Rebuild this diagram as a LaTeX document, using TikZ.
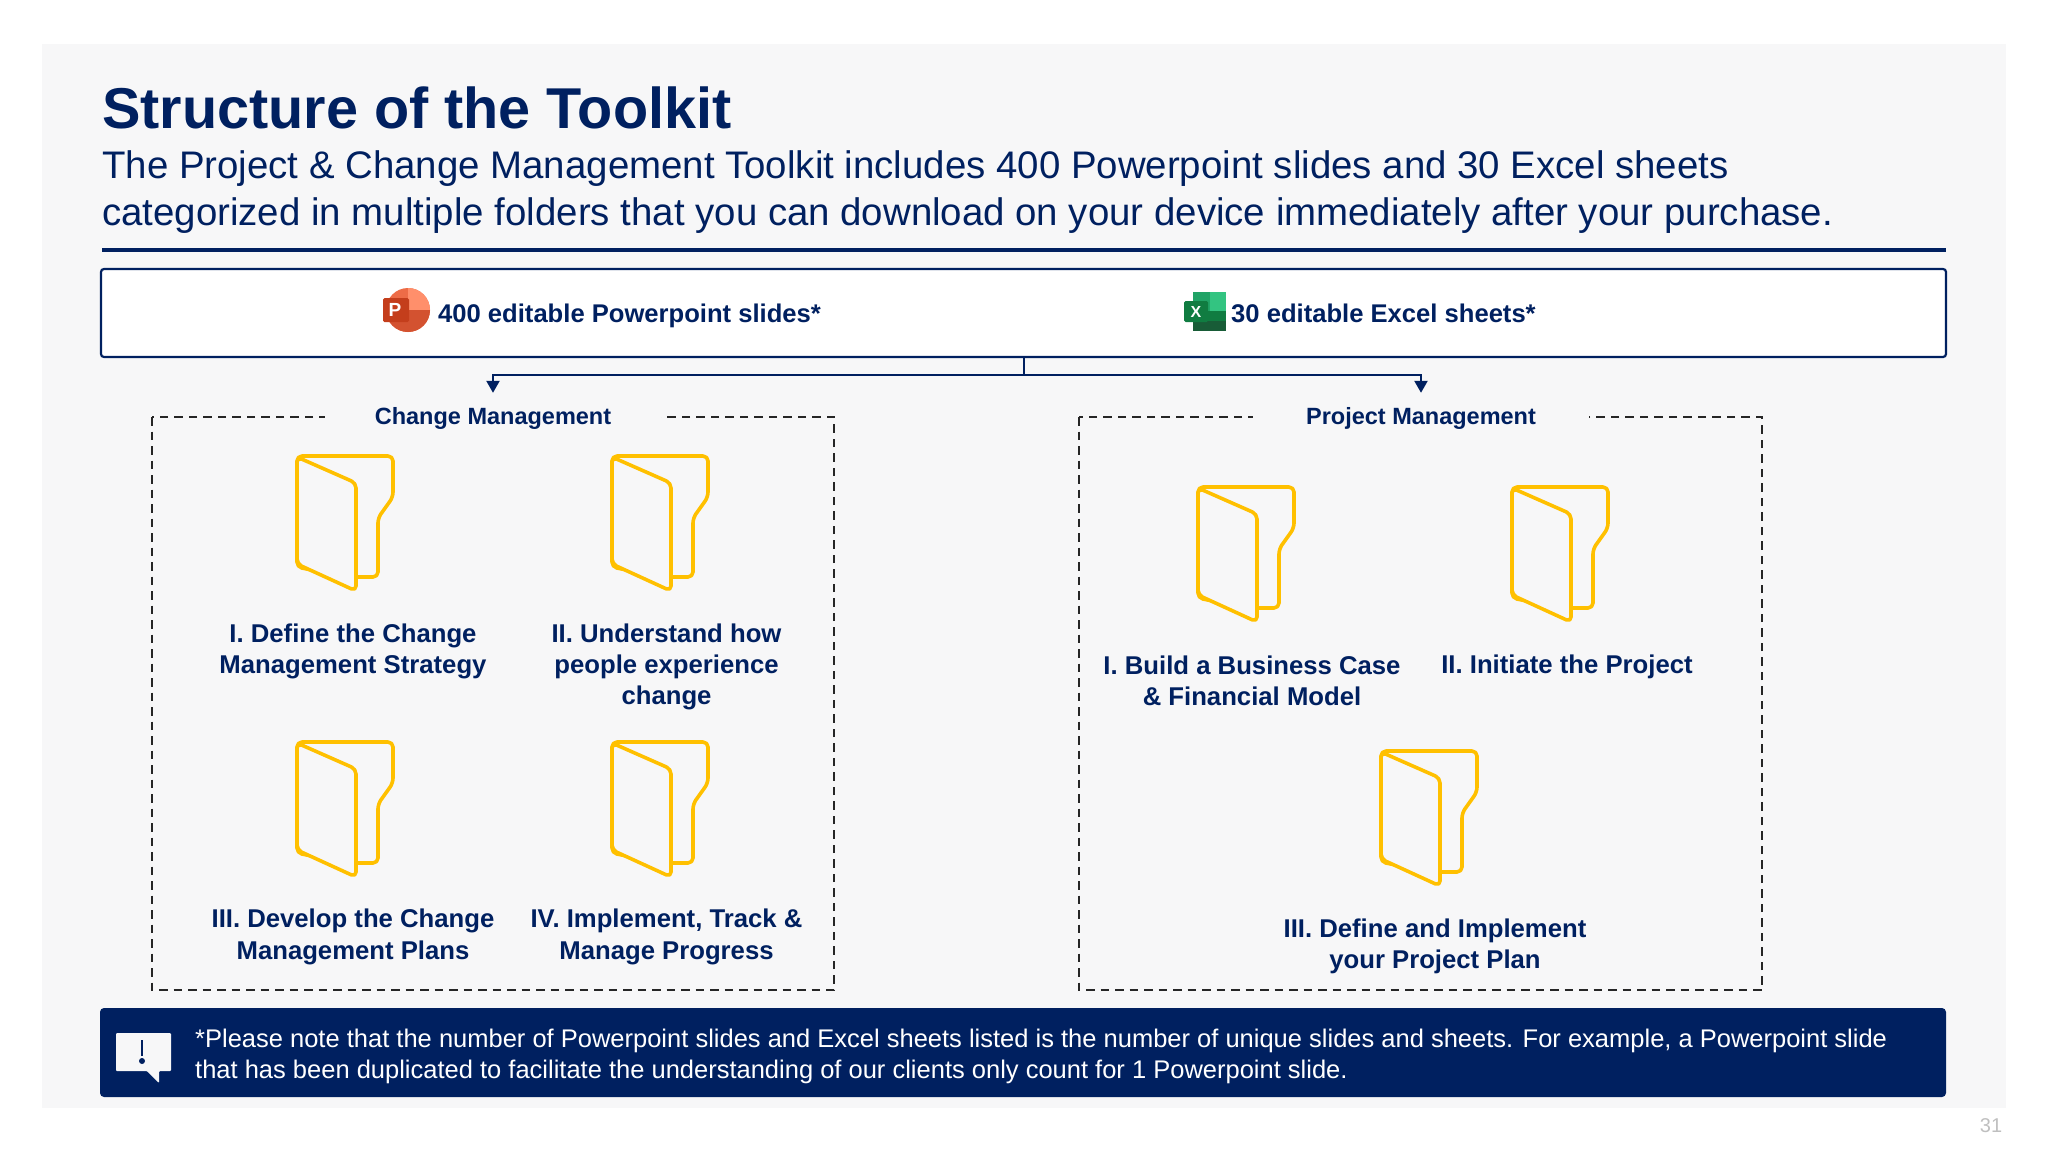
\documentclass[tikz,border=0pt]{standalone}
\usepackage{fontspec}
\setmainfont{Liberation Sans}
\usetikzlibrary{arrows.meta,positioning,calc}
\definecolor{navy}{HTML}{002060}
\definecolor{panel}{HTML}{F7F7F8}
\definecolor{folderyellow}{HTML}{FFC000}
\definecolor{pptlight}{HTML}{FF8F6B}
\definecolor{pptmid}{HTML}{ED6C47}
\definecolor{pptdark}{HTML}{D35230}
\definecolor{pptsquare}{HTML}{C43E1C}
\definecolor{xlslight}{HTML}{33C481}
\definecolor{xlsmid}{HTML}{21A366}
\definecolor{xlsdark}{HTML}{107C41}
\definecolor{xlsdeep}{HTML}{185C37}
\tikzset{
	flow/.style={draw=navy, line width=2.2pt, -{Triangle[width=13pt,length=12pt]}},
	groupbox/.style={draw=black!85, line width=1.8pt, dash pattern=on 8.5pt off 6pt},
	grouphead/.style={fill=panel, text=navy, inner sep=0pt, minimum width=336pt, minimum height=50pt, font=\fontsize{23.5}{30}\selectfont\bfseries},
	folderlabel/.style={text=navy, align=center, inner sep=0pt, font=\fontsize{25.7}{31.3}\selectfont\bfseries},
	filetext/.style={anchor=base west, inner sep=0pt, text=navy, font=\fontsize{25.6}{26}\selectfont\bfseries},
	subtext/.style={anchor=base west, inner sep=0pt, text=navy, font=\fontsize{38.4}{40}\selectfont},
	notetext/.style={anchor=base west, inner sep=0pt, text=white, font=\fontsize{25.5}{26}\selectfont},
	folder/.pic={
		\draw[folderyellow, line width=3.6pt, line join=round, rounded corners=5pt, fill=panel]
			(1,0) -- (97,0) -- (97,41) -- (82,62) -- (82,121) -- (50,121) -- (1,111) -- cycle;
		\draw[folderyellow, line width=3.6pt, line join=round, rounded corners=5pt, fill=panel]
			(1,1) -- (60,27) -- (60,135) -- (1,108) -- cycle;
	}
}
\begin{document}
\begin{tikzpicture}[x=1pt,y=-1pt]
	\useasboundingbox (0,0) rectangle (2048,1152);
	\def \BoxTop {417}; %Top of the dashed groups
	\def \BoxBottom {990}; %Bottom of the dashed groups
	\fill[panel] (42,44) rectangle (2006,1108);
	\node[text=black!25, font=\fontsize{20}{20}\selectfont] (pagenr) at (1991,1126) {31};
	%Heading
	%===========================================================
	\node[anchor=base west, inner sep=0pt, text=navy, font=\fontsize{57.6}{58}\selectfont\bfseries] (title) at (102,128) {Structure of the Toolkit};
	\node[subtext] (subone) at (102,178.5) {The Project \& Change Management Toolkit includes 400 Powerpoint slides and 30 Excel sheets};
	\node[subtext] (subtwo) at (102,225) {categorized in multiple folders that you can download on your device immediately after your purchase.};
	\draw[navy, line width=4pt] (102,250) -- (1946,250);
	%Top box with both file types
	%===========================================================
	\draw[navy, line width=2.2pt, fill=white, rounded corners=3pt] (101,269) rectangle (1946,357);
	\coordinate (topbox) at (1024,357);
	\coordinate (bus) at (1024,375);
	%Powerpoint icon
	\fill[pptmid] (408,310) circle (22);
	\fill[pptlight] (408,310) -- (408,288) arc (-90:0:22) -- cycle;
	\fill[pptdark] (430,310) arc (0:180:22) -- cycle;
	\fill[pptsquare, rounded corners=1.5pt] (383,298) rectangle (409,322);
	\node[text=white, inner sep=0pt, font=\fontsize{19}{19}\selectfont\bfseries] (pptletter) at (395,310) {P};
	\node[filetext] (ppttext) at (438,322) {400 editable Powerpoint slides*};
	%Excel icon
	\fill[xlslight] (1193,292) rectangle (1226,311);
	\fill[xlsmid] (1193,292) rectangle (1210,311);
	\fill[xlsdark] (1193,311) rectangle (1226,331);
	\fill[xlsdeep] (1193,321) rectangle (1226,331);
	\fill[xlsdark, rounded corners=1.5pt] (1184,301) rectangle (1208,322);
	\node[text=white, inner sep=0pt, font=\fontsize{16}{16}\selectfont\bfseries] (xlsletter) at (1196,312) {X};
	\node[filetext] (xlstext) at (1231,322) {30 editable Excel sheets*};
	%Dashed groups
	%===========================================================
	\draw[groupbox] (152,\BoxTop) rectangle (834,\BoxBottom);
	\draw[groupbox] (1079,\BoxTop) rectangle (1762,\BoxBottom);
	\node[grouphead] (change) at (493,418) {Change Management};
	\node[grouphead] (project) at (1421,418) {Project Management};
	\draw[navy, line width=2.2pt] (topbox) -- (bus);
	\draw[flow] (bus) -| (change.north);
	\draw[flow] (bus) -| (project.north);
	%Folders of the first group
	\pic at (296,456) {folder};
	\pic at (611,456) {folder};
	\pic at (296,742) {folder};
	\pic at (611,742) {folder};
	\node[folderlabel] (chone) at (353,651.5) {I. Define the Change\\Management Strategy};
	\node[folderlabel] (chtwo) at (666.5,667) {II. Understand how\\people experience\\change};
	\node[folderlabel] (chthree) at (353,937) {III. Develop the Change\\Management Plans};
	\node[folderlabel] (chfour) at (666.5,937) {IV. Implement, Track \&\\Manage Progress};
	%Folders of the second group
	\pic at (1197,487) {folder};
	\pic at (1511,487) {folder};
	\pic at (1380,751) {folder};
	\node[folderlabel] (prone) at (1252,681) {I. Build a Business Case\\\& Financial Model};
	\node[folderlabel] (prtwo) at (1567,667) {II. Initiate the Project};
	\node[folderlabel] (prthree) at (1435,946) {III. Define and Implement\\your Project Plan};
	%Note at the bottom
	%===========================================================
	\fill[navy, rounded corners=4pt] (100,1008) rectangle (1946,1097);
	\fill[panel, rounded corners=1pt] (116,1033) -- (171,1033) -- (171,1071) -- (159,1071) -- (159,1083) -- (147,1071) -- (116,1071) -- cycle;
	\draw[navy, line width=2.5pt] (142,1040) -- (142,1056);
	\fill[navy] (142,1061) circle (3);
	\node[notetext] (noteone) at (195,1047) {*Please note that the number of Powerpoint slides and Excel sheets listed is the number of unique slides and sheets. For example, a Powerpoint slide};
	\node[notetext] (notetwo) at (195,1078) {that has been duplicated to facilitate the understanding of our clients only count for 1 Powerpoint slide.};
\end{tikzpicture}
\end{document}
